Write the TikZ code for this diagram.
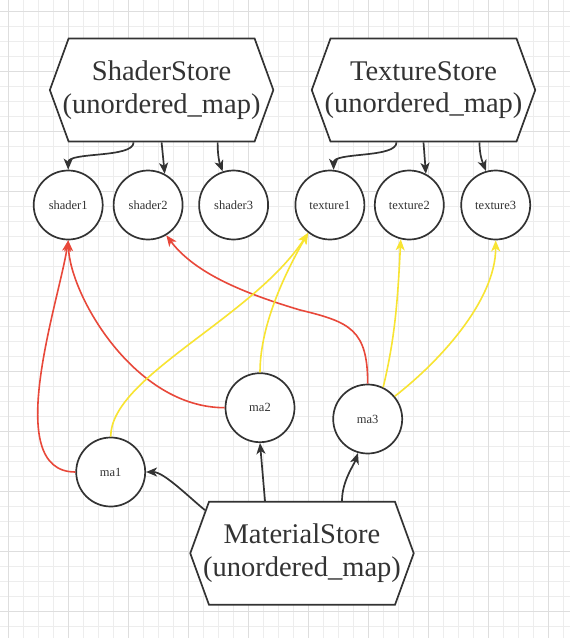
\documentclass[tikz,border=0pt]{standalone}
\usepackage{fontspec}
\setmainfont{Liberation Serif}
\usetikzlibrary{shapes.symbols,arrows.meta}

\definecolor{ink}{RGB}{51,51,51}
\definecolor{linkred}{RGB}{232,72,58}
\definecolor{linkyellow}{RGB}{248,228,50}
\definecolor{gridlight}{RGB}{237,237,237}
\definecolor{griddark}{RGB}{222,222,222}

% two-line store label, allowed to run over the slanted sides
\newcommand{\storelabel}[1]{\makebox[186pt]{#1}\\\makebox[186pt]{(unordered\_map)}}

\begin{document}
\begin{tikzpicture}[x=1pt,y=-1pt,
  store/.style={signal, signal to=east and west, signal pointer angle=140,
    draw=ink, line width=1.7pt, fill=white, text=ink, inner sep=0pt,
    minimum height=103pt, align=center,
    font=\fontsize{28.5}{32.5}\selectfont},
  item/.style={circle, draw=ink, line width=1.7pt, fill=white, text=ink,
    minimum size=69pt, inner sep=0pt, font=\fontsize{12.5}{14}\selectfont},
  link/.style={draw=ink, line width=1.7pt,
    -{Stealth[length=11pt,width=9pt,inset=3pt]}},
  redlink/.style={draw=linkred, line width=1.6pt,
    -{Stealth[length=11pt,width=9pt,inset=3pt]}},
  yellowlink/.style={draw=linkyellow, line width=1.6pt,
    -{Stealth[length=11pt,width=9pt,inset=3pt]}}]

\def\xmax{570}
\def\ymax{638}

\useasboundingbox (0,0) rectangle (\xmax,\ymax);
\fill[white] (0,0) rectangle (\xmax,\ymax);

% background grid
\foreach \x in {8.3,23.3,...,570}
  \draw[gridlight, line width=0.8pt] (\x,0) -- (\x,\ymax);
\foreach \y in {11.7,26.7,...,638}
  \draw[gridlight, line width=0.8pt] (0,\y) -- (\xmax,\y);
\foreach \x in {8.3,68.3,...,570}
  \draw[griddark, line width=0.8pt] (\x,0) -- (\x,\ymax);
\foreach \y in {11.7,71.7,...,638}
  \draw[griddark, line width=0.8pt] (0,\y) -- (\xmax,\y);

% stores
\node[store] (ShaderStore) at (161.6,90) {\storelabel{ShaderStore}};
\node[store] (TextureStore) at (423.5,90) {\storelabel{TextureStore}};
\node[store] (MaterialStore) at (302,553.3) {\storelabel{MaterialStore}};

% entries
\foreach \name/\x in {shader1/68.2, shader2/148.1, shader3/233.6,
                      texture1/329.9, texture2/409.3, texture3/495.7}
  \node[item] (\name) at (\x,205) {\name};

\node[item] (ma1) at (110.7,472) {ma1};
\node[item] (ma2) at (260,407.7) {ma2};
\node[item] (ma3) at (367.7,419) {ma3};

% store -> entry
\draw[link] ([xshift=-28pt]ShaderStore.south) .. controls +(0,16) and +(0,-18) .. (shader1.north);
\draw[link] (ShaderStore.south) -- (shader2.62);
\draw[link] ([xshift=56pt]ShaderStore.south) .. controls +(0,14) and +(-3,-8) .. (shader3.108);

\draw[link] ([xshift=-27pt]TextureStore.south) .. controls +(0,16) and +(0,-18) .. (texture1.84);
\draw[link] (TextureStore.south) -- (texture2.62);
\draw[link] ([xshift=56pt]TextureStore.south) .. controls +(0,14) and +(-3,-8) .. (texture3.106);

\draw[link] (MaterialStore.156) .. controls +(-15,-12) and +(18,0) .. (ma1.east);
\draw[link] ([xshift=-37pt]MaterialStore.north) -- (ma2.south);
\draw[link] ([xshift=40pt]MaterialStore.north) .. controls +(0,-20) and +(-4,12) .. (ma3.-106);

%shaders
\draw[redlink] (ma1.west) .. controls +(-75,0) and +(-9,60) .. (shader1.south);
\draw[redlink] (ma2.west) .. controls +(-90,0) and +(2,55) .. (shader1.south);
\draw[redlink] (ma3.north) .. controls +(0,-54) and +(50,12) .. (300,310)
  .. controls +(-50,-15) and +(30,40) .. (shader2.-59);

%textures
\draw[yellowlink] (ma1.north) .. controls +(0,-60) and +(-55,85) .. (texture1.-128);
\draw[yellowlink] (ma2.north) .. controls +(0,-50) and +(-20,35) .. (texture1.-128);
\draw[yellowlink] (ma3.64) .. controls +(12,-50) and +(-3,60) .. (texture2.-104);
\draw[yellowlink] (ma3.40) .. controls +(45,-35) and +(0,60) .. (texture3.south);
\end{tikzpicture}
\end{document}
